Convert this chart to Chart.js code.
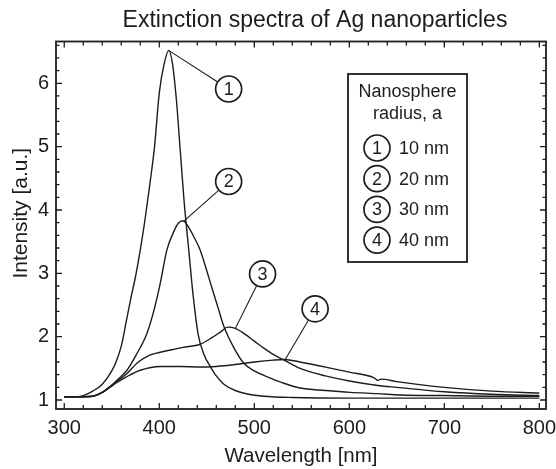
<!DOCTYPE html>
<html><head><meta charset="utf-8">
<script src="https://cdn.jsdelivr.net/npm/chart.js@4/dist/chart.umd.min.js"></script>
<style>html,body{margin:0;padding:0;background:#fff}</style>
</head><body>
<canvas id="c" width="556" height="469"></canvas>
<script>
// ---- data ----
const wl1  = [300,310,320,330,340,350,355,360,365,370,375,380,385,390,395,400,405,410,414,418,422,426,431,436,441,447,454,460,468,480,494,510,540,600,650,700,750,800];
const int1 = [1.05,1.05,1.07,1.14,1.25,1.46,1.62,1.85,2.22,2.6,2.95,3.37,3.85,4.4,5.0,5.85,6.3,6.52,6.3,5.74,4.95,4.16,3.37,2.6,2.03,1.72,1.52,1.38,1.25,1.15,1.09,1.06,1.04,1.03,1.03,1.03,1.03,1.03];
const wl2  = [300,320,330,340,348,356,366,376,387,395,401,408,415,420,425,430,438,443,450,456,462,468,478,489,500,513,530,548,575,601,630,654,700,750,800];
const int2 = [1.05,1.05,1.06,1.12,1.21,1.32,1.47,1.72,2.05,2.45,2.84,3.37,3.65,3.79,3.83,3.75,3.53,3.37,3.04,2.74,2.45,2.16,1.84,1.58,1.46,1.37,1.27,1.19,1.15,1.12,1.1,1.08,1.07,1.06,1.06];
const wl3  = [300,330,340,348,356,366,378,390,400,412,425,443,455,465,472,480,490,500,510,520,530,540,548,575,600,630,650,700,750,800];
const int3 = [1.05,1.06,1.12,1.21,1.3,1.42,1.6,1.71,1.75,1.79,1.83,1.88,1.98,2.08,2.15,2.13,2.04,1.93,1.82,1.72,1.64,1.56,1.5,1.38,1.3,1.23,1.2,1.13,1.09,1.07];
const wl4  = [300,330,340,348,356,366,380,401,422,443,460,480,500,520,532,548,575,600,626,630,634,650,700,750,800];
const int4 = [1.05,1.06,1.12,1.2,1.28,1.37,1.47,1.53,1.53,1.52,1.53,1.56,1.6,1.63,1.64,1.6,1.52,1.44,1.35,1.31,1.33,1.29,1.2,1.14,1.11];
const seriesNames = ['1','2','3','4'];
const radii = ['10 nm','20 nm','30 nm','40 nm'];
const xTicks = [300,400,500,600,700,800];
const yTicks = [1,2,3,4,5,6];
// annotation anchors in data units: label centre and the point on the curve
const calloutLabelX = [473, 473, 508.7, 564];
const calloutLabelY = [5.91, 4.45, 2.99, 2.44];
const calloutPointX = [409.8, 425.6, 480, 532.6];
const calloutPointY = [6.52, 3.82, 2.13, 1.64];

const FONT = '"Liberation Sans", Arial, Helvetica, sans-serif';
const INK = '#1c1c1c';
const TITLE = 'Extinction spectra of Ag nanoparticles';
const YTITLE = 'Intensity [a.u.]';

function pts(xs, ys){ return xs.map((v,i)=>({x:v, y:ys[i]})); }

function circled(ctx, cx, cy, txt){
  ctx.beginPath();
  ctx.arc(cx, cy, 13, 0, Math.PI*2);
  ctx.fillStyle = '#fff'; ctx.fill();
  ctx.lineWidth = 1.7; ctx.strokeStyle = INK; ctx.stroke();
  ctx.fillStyle = INK;
  ctx.font = '18px ' + FONT;
  ctx.textAlign = 'center'; ctx.textBaseline = 'middle';
  ctx.fillText(txt, cx, cy + 1);
}

const deco = {
  id: 'deco',
  afterDatasetsDraw(chart){
    const {ctx, chartArea:a, scales:{x, y}} = chart;
    ctx.save();
    // title
    ctx.fillStyle = INK;
    ctx.font = '23px ' + FONT;
    ctx.textAlign = 'center'; ctx.textBaseline = 'middle';
    ctx.fillText(TITLE, a.left + (a.right - a.left)/2 + 14, 21);
    // y axis title
    ctx.save();
    ctx.translate(21, a.top + (a.bottom - a.top)/2 - 12);
    ctx.rotate(-Math.PI/2);
    ctx.font = '21px ' + FONT;
    ctx.fillText(YTITLE, 0, 0);
    ctx.restore();
    // inward ticks on all sides
    ctx.strokeStyle = INK; ctx.lineWidth = 1.3;
    for (let k = 0; k <= 25; k++){
      const v = 300 + k*20; const px = x.getPixelForValue(v);
      const len = (v % 100 === 0) ? 6 : 4;
      ctx.beginPath();
      ctx.moveTo(px, a.bottom); ctx.lineTo(px, a.bottom - len);
      ctx.moveTo(px, a.top); ctx.lineTo(px, a.top + len);
      ctx.stroke();
    }
    for (let k = 0; k <= 28; k++){
      const v = 1 + k*0.2; const py = y.getPixelForValue(v);
      const len = (k % 5 === 0) ? 6 : 3.5;
      ctx.beginPath();
      ctx.moveTo(a.left, py); ctx.lineTo(a.left + len, py);
      ctx.moveTo(a.right, py); ctx.lineTo(a.right - len, py);
      ctx.stroke();
    }
    // frame
    ctx.lineWidth = 1.8;
    ctx.strokeRect(a.left, a.top, a.right - a.left, a.bottom - a.top);
    // callouts
    for (let i = 0; i < 4; i++){
      const cx = x.getPixelForValue(calloutLabelX[i]);
      const cy = y.getPixelForValue(calloutLabelY[i]);
      const tx = x.getPixelForValue(calloutPointX[i]);
      const ty = y.getPixelForValue(calloutPointY[i]);
      const d = Math.hypot(tx - cx, ty - cy);
      ctx.beginPath();
      ctx.moveTo(cx + (tx - cx)/d*13, cy + (ty - cy)/d*13);
      ctx.lineTo(tx, ty);
      ctx.lineWidth = 1.1; ctx.strokeStyle = INK; ctx.stroke();
      circled(ctx, cx, cy, seriesNames[i]);
    }
    // legend box
    const bx = a.left + 292, by = a.top + 32.5, bw = 119, bh = 188;
    ctx.fillStyle = '#fff';
    ctx.fillRect(bx, by, bw, bh);
    ctx.lineWidth = 1.8; ctx.strokeStyle = INK;
    ctx.strokeRect(bx, by, bw, bh);
    ctx.fillStyle = INK;
    ctx.font = '18px ' + FONT;
    ctx.textAlign = 'center'; ctx.textBaseline = 'middle';
    ctx.fillText('Nanosphere', bx + bw/2, by + 18);
    ctx.fillText('radius, a', bx + bw/2, by + 40);
    for (let i = 0; i < 4; i++){
      const cy = by + 74 + i*30.7;
      circled(ctx, bx + 29, cy, seriesNames[i]);
      ctx.fillStyle = INK;
      ctx.font = '18px ' + FONT;
      ctx.textAlign = 'left'; ctx.textBaseline = 'middle';
      ctx.fillText(radii[i], bx + 51, cy + 1);
    }
    ctx.restore();
  }
};

const ds = [[wl1,int1],[wl2,int2],[wl3,int3],[wl4,int4]].map((p,i)=>({
  label: radii[i],
  data: pts(p[0], p[1]),
  borderColor: INK,
  borderWidth: 1.4,
  pointRadius: 0,
  fill: false,
  cubicInterpolationMode: 'monotone'
}));

new Chart(document.getElementById('c'), {
  type: 'line',
  data: { datasets: ds },
  options: {
    responsive: false,
    animation: false,
    devicePixelRatio: 1,
    layout: { padding: { left: 0, right: 10, top: 41.5, bottom: 0 } },
    plugins: {
      legend: { display: false },
      tooltip: { enabled: false },
      title: { display: false }
    },
    scales: {
      x: {
        type: 'linear', min: 291.3, max: 807,
        grid: { display: false, drawTicks: false },
        border: { display: false },
        afterBuildTicks: s => { s.ticks = xTicks.map(v => ({value: v})); },
        afterFit: s => { s.paddingLeft = 0; s.paddingRight = 0; s.height = 60; },
        ticks: { color: INK, font: { family: FONT, size: 20 }, padding: 7, maxRotation: 0, autoSkip: false },
        title: { display: true, text: 'Wavelength [nm]', color: INK, font: { family: FONT, size: 20.5 }, padding: { top: 0, bottom: 0 } }
      },
      y: {
        type: 'linear', min: 0.858, max: 6.66,
        grid: { display: false, drawTicks: false },
        border: { display: false },
        afterBuildTicks: s => { s.ticks = yTicks.map(v => ({value: v})); },
        afterFit: s => { s.width = 56; s.paddingTop = 0; s.paddingBottom = 0; },
        ticks: { color: INK, font: { family: FONT, size: 20 }, padding: 7 },
        title: { display: false }
      }
    }
  },
  plugins: [deco]
});
</script>
</body></html>
